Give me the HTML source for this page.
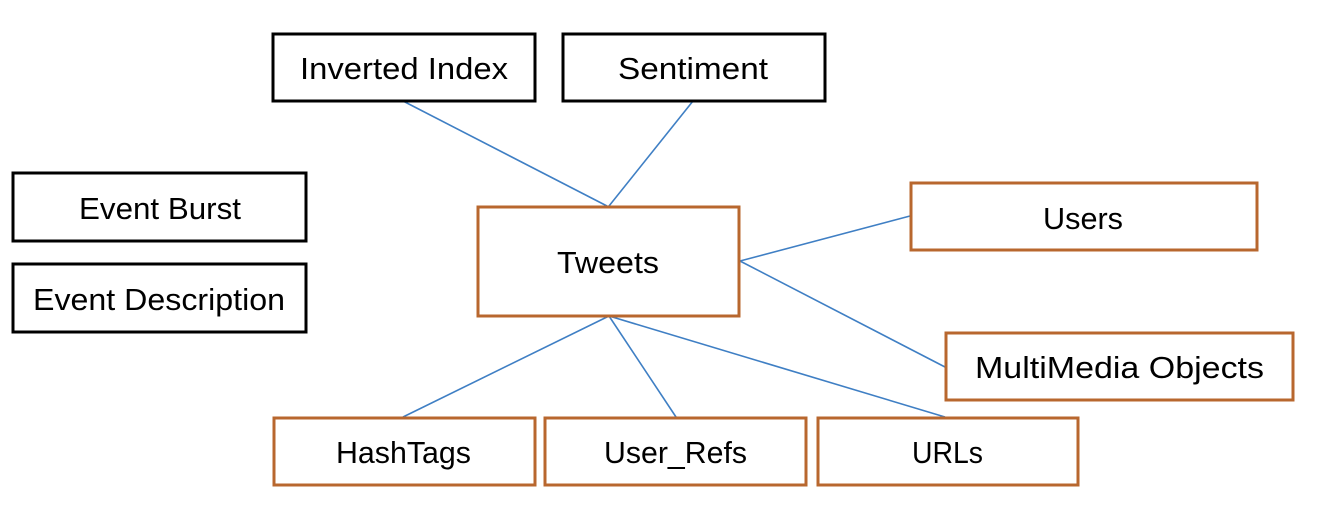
<!DOCTYPE html>
<html><head><meta charset="utf-8"><style>html,body{margin:0;padding:0;background:#fff;}svg{display:block}</style></head>
<body>
<svg width="1342" height="518" viewBox="0 0 1342 518" xmlns="http://www.w3.org/2000/svg" font-family="Liberation Sans, sans-serif" font-size="31">
<g stroke="#3f7fc4" stroke-width="1.6">
<line x1="403" y1="101" x2="607" y2="206"/>
<line x1="693" y1="101" x2="609" y2="206"/>
<line x1="740" y1="261" x2="910" y2="216"/>
<line x1="740" y1="261" x2="945" y2="367"/>
<line x1="609" y1="316" x2="403" y2="417"/>
<line x1="609" y1="316" x2="676" y2="417"/>
<line x1="609" y1="316" x2="945" y2="417"/>
</g>
<g fill="#fff" stroke="#000" stroke-width="3">
<rect x="273" y="34" width="262" height="67"/>
<rect x="563" y="34" width="262" height="67"/>
<rect x="13" y="173" width="293" height="68"/>
<rect x="13" y="264" width="293" height="68"/>
</g>
<g fill="#fff" stroke="#b8672e" stroke-width="3">
<rect x="478" y="207" width="261" height="109"/>
<rect x="911" y="183" width="346" height="67"/>
<rect x="946" y="333" width="347" height="67"/>
<rect x="274" y="418" width="261" height="67"/>
<rect x="545" y="418" width="261" height="67"/>
<rect x="818" y="418" width="260" height="67"/>
</g>
<g fill="#000">
<text x="300" y="79" textLength="208" lengthAdjust="spacingAndGlyphs">Inverted Index</text>
<text x="618" y="79" textLength="150" lengthAdjust="spacingAndGlyphs">Sentiment</text>
<text x="79" y="219" textLength="162" lengthAdjust="spacingAndGlyphs">Event Burst</text>
<text x="33" y="310" textLength="252" lengthAdjust="spacingAndGlyphs">Event Description</text>
<text x="557" y="273" textLength="102" lengthAdjust="spacingAndGlyphs">Tweets</text>
<text x="1043" y="229" textLength="80" lengthAdjust="spacingAndGlyphs">Users</text>
<text x="975" y="378" textLength="289" lengthAdjust="spacingAndGlyphs">MultiMedia Objects</text>
<text x="336" y="463" textLength="135" lengthAdjust="spacingAndGlyphs">HashTags</text>
<text x="604" y="463" textLength="143" lengthAdjust="spacingAndGlyphs">User_Refs</text>
<text x="912" y="463" textLength="71" lengthAdjust="spacingAndGlyphs">URLs</text>
</g>
</svg>
</body></html>
